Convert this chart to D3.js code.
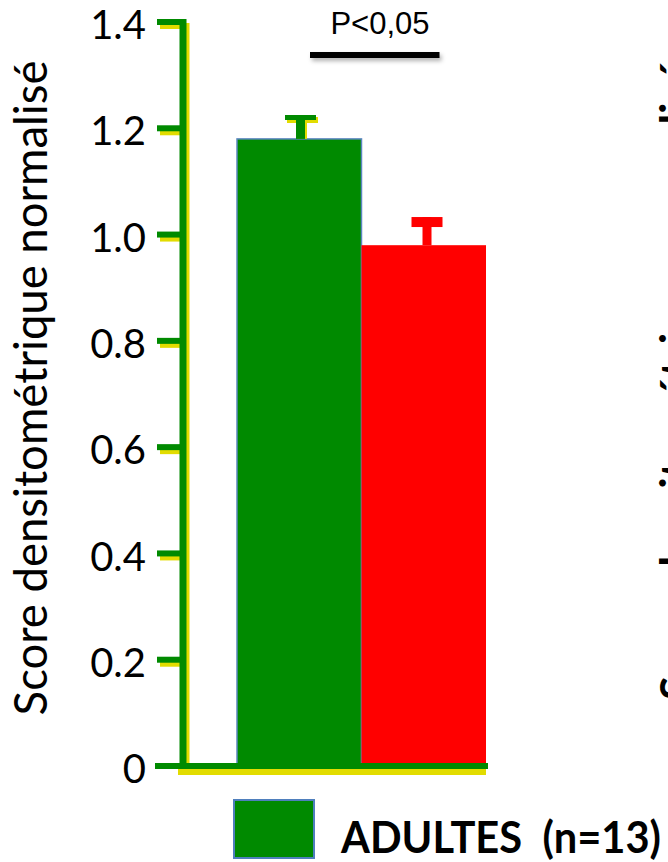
<!DOCTYPE html>
<html>
<head>
<meta charset="utf-8">
<script src="https://cdn.jsdelivr.net/npm/d3@7"></script>
<style>
  html, body { margin: 0; padding: 0; background: #fff; overflow: hidden; }
  svg { display: block; }
</style>
</head>
<body>
<script>
// Data
const groups = ["ADULTES", "groupe 2"];
const means = [1.18, 0.98];
const errors = [0.045, 0.053];
const barColors = ["#008a00", "#ff0000"];
const tickValues = [0, 0.2, 0.4, 0.6, 0.8, 1.0, 1.2, 1.4];
const tickLabels = ["0", "0.2", "0.4", "0.6", "0.8", "1.0", "1.2", "1.4"];
const yTitle = "Score densitométrique normalisé";
const sigLabel = "P<0,05";
const legendLabel = "ADULTES  (n=13)";

const W = 668, H = 862;
const axisGreen = "#008a00";
const shadowYellow = "#e2dc00";

const svg = d3.select("body").append("svg")
  .attr("width", W).attr("height", H);

const defs = svg.append("defs");
const soft = defs.append("filter").attr("id", "soft")
  .attr("filterUnits", "userSpaceOnUse")
  .attr("x", 280).attr("y", 30).attr("width", 200).attr("height", 50);
soft.append("feDropShadow").attr("dx", 2).attr("dy", 3).attr("stdDeviation", 2)
  .attr("flood-color", "#000").attr("flood-opacity", 0.3);

const y = d3.scaleLinear().domain([0, 1.4]).range([766, 22]);
const x = d3.scaleBand().domain(groups).range([237, 486]).paddingInner(0);

const axisX = 183;

// Y axis with yellow offset shadow
function drawYAxis(g, color, dx, dy) {
  g.append("line")
    .attr("x1", axisX + dx).attr("x2", axisX + dx)
    .attr("y1", y(1.4) - 3 + dy).attr("y2", y(0) + dy)
    .attr("stroke", color).attr("stroke-width", 7);
  g.selectAll("line.tick").data(tickValues.filter(v => v > 0)).join("line")
    .attr("class", "tick")
    .attr("x1", axisX - 26 + dx).attr("x2", axisX + dx)
    .attr("y1", d => y(d) + dy).attr("y2", d => y(d) + dy)
    .attr("stroke", color).attr("stroke-width", 6);
}
const yShadow = svg.append("g");
drawYAxis(yShadow, shadowYellow, 3, 4);

// Bars
svg.selectAll("rect.bar").data(groups).join("rect")
  .attr("class", "bar")
  .attr("x", d => x(d))
  .attr("y", (d, i) => y(means[i]))
  .attr("width", x.bandwidth())
  .attr("height", (d, i) => y(0) - y(means[i]))
  .attr("fill", (d, i) => barColors[i])
  .attr("stroke", (d, i) => i === 0 ? "#5b86c0" : "none")
  .attr("stroke-width", 1.5);

// Error bars (upper whisker only)
const errOffset = [63, 65];
groups.forEach((g, i) => {
  const cx = x(g) + errOffset[i];
  const top = y(means[i] + errors[i]);
  const grp = svg.append("g");
  if (i === 0) {
    grp.append("rect").attr("x", cx - 3).attr("y", top + 3)
      .attr("width", 10).attr("height", y(means[i]) - top - 3).attr("fill", shadowYellow);
    grp.append("rect").attr("x", cx - 13).attr("y", top + 2)
      .attr("width", 31).attr("height", 6).attr("fill", shadowYellow);
  }
  grp.append("rect").attr("x", cx - 4).attr("y", top)
    .attr("width", 9).attr("height", y(means[i]) - top).attr("fill", barColors[i]);
  grp.append("rect").attr("x", cx - 15).attr("y", top)
    .attr("width", 31).attr("height", i === 0 ? 5 : 10).attr("fill", barColors[i]);
});

// Main Y axis (green)
const yMain = svg.append("g");
drawYAxis(yMain, axisGreen, 0, 0);

// X axis with yellow shadow
svg.append("line").attr("x1", 178).attr("x2", 486)
  .attr("y1", y(0) + 6).attr("y2", y(0) + 6)
  .attr("stroke", shadowYellow).attr("stroke-width", 6);
svg.append("line").attr("x1", 155).attr("x2", 488)
  .attr("y1", y(0)).attr("y2", y(0))
  .attr("stroke", axisGreen).attr("stroke-width", 6);

// Tick labels
svg.selectAll("text.tl").data(tickValues).join("text")
  .attr("class", "tl")
  .attr("x", 146)
  .attr("y", d => y(d))
  .attr("dy", "0.43em")
  .attr("text-anchor", "end")
  .attr("font-family", "Lato, sans-serif")
  .attr("font-size", 40)
  .attr("fill", "#000")
  .text((d, i) => tickLabels[i]);

// Y axis title
function fitText(sel, target) {
  const len = sel.node().getComputedTextLength();
  const fs = parseFloat(sel.attr("font-size"));
  sel.attr("font-size", fs * target / len);
}
const title = svg.append("text")
  .attr("transform", "translate(47,388) rotate(-90)")
  .attr("text-anchor", "middle")
  .attr("font-family", "Lato, sans-serif")
  .attr("font-size", 36)
  .attr("fill", "#000")
  .text(yTitle);
fitText(title, 655);

// Title of the neighbouring panel, cut by the right edge
const title2 = svg.append("text")
  .attr("transform", "translate(692,380) rotate(-90)")
  .attr("text-anchor", "middle")
  .attr("font-family", "Lato, sans-serif")
  .attr("font-weight", "bold")
  .attr("font-size", 36)
  .attr("fill", "#000")
  .text(yTitle);
fitText(title2, 640);

// Significance marker
svg.append("rect")
  .attr("x", x(groups[0]) + 73).attr("width", (x(groups[1]) + 200) - (x(groups[0]) + 73) - 122)
  .attr("y", 52).attr("height", 6)
  .attr("fill", "#000")
  .attr("filter", "url(#soft)");
svg.append("text")
  .attr("x", 380).attr("y", 34)
  .attr("text-anchor", "middle")
  .attr("font-family", "Liberation Sans, Arial, sans-serif")
  .attr("font-size", 31)
  .attr("fill", "#000")
  .text(sigLabel);

// Legend
svg.append("rect")
  .attr("x", 234).attr("y", 800).attr("width", 80).attr("height", 58)
  .attr("fill", barColors[0]).attr("stroke", "#4f7fbd").attr("stroke-width", 2);
svg.append("text")
  .attr("x", 341).attr("y", 853)
  .attr("font-family", "Lato, sans-serif")
  .attr("font-weight", "bold")
  .attr("font-size", 43)
  .attr("fill", "#000")
  .attr("textLength", 320)
  .attr("lengthAdjust", "spacingAndGlyphs")
  .attr("xml:space", "preserve")
  .style("white-space", "pre")
  .text(legendLabel);
</script>
</body>
</html>
